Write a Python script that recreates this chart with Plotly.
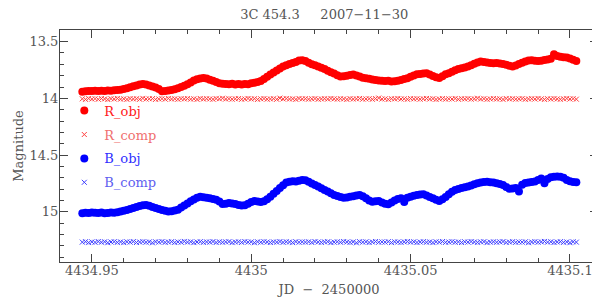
import plotly.graph_objects as go

# sample times (JD - 2450000), one frame every 0.001 d
jd = [round(4434.947 + 0.001 * i, 3) for i in range(156)]

r_obj = [13.942, 13.938, 13.936, 13.935, 13.932, 13.936, 13.933, 13.935, 13.931, 13.934,
         13.929, 13.927, 13.925, 13.918, 13.910, 13.902, 13.893, 13.886, 13.879, 13.874,
         13.879, 13.886, 13.896, 13.905, 13.918, 13.938, 13.935, 13.930, 13.927, 13.920,
         13.912, 13.900, 13.888, 13.876, 13.860, 13.842, 13.832, 13.824, 13.820, 13.826,
         13.836, 13.845, 13.856, 13.866, 13.871, 13.873, 13.876, 13.872, 13.877, 13.874,
         13.878, 13.873, 13.875, 13.868, 13.862, 13.855, 13.847, 13.830, 13.810, 13.790,
         13.772, 13.755, 13.738, 13.720, 13.708, 13.698, 13.688, 13.680, 13.667, 13.664,
         13.670, 13.686, 13.699, 13.708, 13.720, 13.730, 13.742, 13.756, 13.769, 13.782,
         13.796, 13.808, 13.805, 13.800, 13.795, 13.790, 13.798, 13.808, 13.818, 13.822,
         13.828, 13.834, 13.838, 13.842, 13.844, 13.848, 13.846, 13.851, 13.849, 13.845,
         13.838, 13.830, 13.822, 13.810, 13.798, 13.788, 13.785, 13.782, 13.779, 13.790,
         13.802, 13.814, 13.820, 13.805, 13.788, 13.778, 13.765, 13.752, 13.742, 13.735,
         13.728, 13.720, 13.708, 13.696, 13.685, 13.676, 13.680, 13.684, 13.688, 13.690,
         13.688, 13.692, 13.698, 13.705, 13.713, 13.720, 13.710, 13.698, 13.686, 13.676,
         13.666, 13.664, 13.669, 13.672, 13.668, 13.662, 13.658, 13.652, 13.612, 13.626,
         13.634, 13.637, 13.640, 13.648, 13.660, 13.670]

r_comp = [14.004, 14.009, 14.001, 14.006, 14.003, 14.008, 14.002, 14.005, 14.010, 14.003,
          14.006, 14.001, 14.007, 14.004, 14.009, 14.002, 14.005, 14.003, 14.008, 14.000,
          14.006, 14.004, 14.002, 14.009, 14.005, 14.003, 14.007, 14.001, 14.006, 14.004,
          14.008, 14.003, 14.005, 14.002, 14.007, 14.004, 14.009, 14.001, 14.006, 14.003,
          14.005, 14.008, 14.002, 14.004, 13.999, 14.006, 14.003, 14.007, 14.004, 14.002,
          14.008, 14.005, 14.001, 14.006, 14.003, 14.009, 14.004, 14.002, 14.007, 14.005,
          14.003, 14.008, 13.998, 14.005, 14.002, 14.006, 14.004, 14.009, 14.001, 14.005,
          14.003, 14.007, 14.004, 14.002, 14.008, 14.005, 14.003, 14.006, 14.001, 14.004,
          14.007, 14.003, 14.005, 14.009, 14.002, 14.006, 14.004, 14.001, 14.007, 14.005,
          14.003, 14.008, 14.002, 13.997, 14.006, 14.004, 14.009, 14.003, 14.005, 14.001,
          14.006, 14.004, 14.008, 14.002, 14.005, 14.003, 14.007, 14.004, 14.001, 14.006,
          14.003, 14.009, 14.005, 14.002, 14.007, 14.004, 14.006, 14.001, 14.008, 14.003,
          14.005, 14.002, 14.007, 14.004, 13.999, 14.006, 14.003, 14.008, 14.005, 14.002,
          14.006, 14.004, 14.009, 14.001, 14.005, 14.003, 14.007, 14.004, 14.002, 14.008,
          14.005, 14.003, 14.006, 14.001, 14.004, 14.009, 14.003, 14.006, 14.002, 14.005,
          14.008, 14.004, 14.001, 14.006, 14.003, 14.007]

b_obj = [15.012, 15.008, 15.010, 15.005, 15.007, 15.010, 15.006, 15.012, 15.009, 15.006,
         15.008, 15.004, 14.996, 14.990, 14.983, 14.975, 14.966, 14.956, 14.948, 14.942,
         14.940, 14.946, 14.956, 14.966, 14.974, 14.984, 14.990, 14.996, 14.993, 14.988,
         14.981, 14.962, 14.944, 14.925, 14.905, 14.890, 14.876, 14.866, 14.870, 14.876,
         14.880, 14.886, 14.893, 14.908, 14.930, 14.928, 14.922, 14.926, 14.930, 14.938,
         14.944, 14.942, 14.928, 14.912, 14.904, 14.908, 14.912, 14.905, 14.888, 14.866,
         14.840, 14.815, 14.790, 14.765, 14.740, 14.735, 14.730, 14.732, 14.726, 14.720,
         14.722, 14.735, 14.750, 14.762, 14.776, 14.792, 14.806, 14.820, 14.836, 14.850,
         14.860, 14.868, 14.875, 14.872, 14.866, 14.862, 14.856, 14.850, 14.862, 14.880,
         14.900, 14.910, 14.907, 14.904, 14.918, 14.928, 14.932, 14.916, 14.900, 14.886,
         14.880, 14.913, 14.876, 14.866, 14.858, 14.852, 14.846, 14.845, 14.856, 14.868,
         14.879, 14.892, 14.903, 14.888, 14.868, 14.845, 14.822, 14.806, 14.798, 14.790,
         14.782, 14.777, 14.768, 14.756, 14.748, 14.742, 14.737, 14.734, 14.738, 14.742,
         14.748, 14.754, 14.762, 14.780, 14.797, 14.794, 14.790, 14.820, 14.760, 14.746,
         14.740, 14.736, 14.733, 14.718, 14.705, 14.748, 14.710, 14.694, 14.690, 14.688,
         14.690, 14.700, 14.718, 14.730, 14.736, 14.739]

b_comp = [15.266, 15.262, 15.270, 15.264, 15.268, 15.261, 15.267, 15.263, 15.271, 15.265,
          15.262, 15.268, 15.264, 15.270, 15.263, 15.266, 15.261, 15.269, 15.265, 15.262,
          15.267, 15.264, 15.272, 15.263, 15.266, 15.261, 15.268, 15.265, 15.262, 15.269,
          15.264, 15.267, 15.260, 15.266, 15.263, 15.270, 15.265, 15.262, 15.268, 15.264,
          15.266, 15.261, 15.269, 15.263, 15.267, 15.264, 15.262, 15.270, 15.265, 15.263,
          15.268, 15.261, 15.266, 15.264, 15.271, 15.263, 15.267, 15.262, 15.265, 15.269,
          15.264, 15.266, 15.261, 15.268, 15.263, 15.265, 15.270, 15.262, 15.267, 15.264,
          15.266, 15.263, 15.269, 15.261, 15.265, 15.268, 15.264, 15.262, 15.270, 15.266,
          15.263, 15.267, 15.261, 15.265, 15.268, 15.264, 15.272, 15.262, 15.266, 15.263,
          15.269, 15.265, 15.261, 15.267, 15.264, 15.266, 15.262, 15.270, 15.263, 15.265,
          15.268, 15.264, 15.261, 15.266, 15.263, 15.269, 15.265, 15.262, 15.267, 15.264,
          15.270, 15.263, 15.266, 15.261, 15.268, 15.265, 15.262, 15.267, 15.264, 15.269,
          15.263, 15.266, 15.261, 15.265, 15.268, 15.264, 15.262, 15.270, 15.266, 15.263,
          15.267, 15.264, 15.261, 15.269, 15.265, 15.262, 15.268, 15.264, 15.266, 15.263,
          15.271, 15.265, 15.262, 15.267, 15.264, 15.260, 15.266, 15.263, 15.269, 15.265,
          15.262, 15.268, 15.264, 15.271, 15.263, 15.266]

title_txt = "3C 454.3\u00a0\u00a0\u00a0\u00a0\u00a02007\u221211\u221230"
xlab = "JD\u00a0\u00a0\u2212\u00a0\u00a02450000"
ylab = "Magnitude"

RED = "#ff0000"
BLUE = "#0000ff"
TXT = "#555555"
FONT = "DejaVu Serif"

fig = go.Figure()
fig.add_trace(go.Scatter(x=jd, y=r_obj, mode="markers", legendgroup="a",
                         name="<span style='color:#ff2020'>R_obj</span>",
                         marker=dict(color=RED, size=8, line=dict(width=0))))
fig.add_trace(go.Scatter(x=jd, y=r_comp, mode="markers", legendgroup="b",
                         name="<span style='color:#f07070'>R_comp</span>",
                         marker=dict(symbol="x-thin", size=5, line=dict(width=1, color="#ff4040"))))
fig.add_trace(go.Scatter(x=jd, y=b_obj, mode="markers", legendgroup="c",
                         name="<span style='color:#3030ff'>B_obj</span>",
                         marker=dict(color=BLUE, size=8, line=dict(width=0))))
fig.add_trace(go.Scatter(x=jd, y=b_comp, mode="markers", legendgroup="d",
                         name="<span style='color:#6060f0'>B_comp</span>",
                         marker=dict(symbol="x-thin", size=5, line=dict(width=1, color="#4040ff"))))

# the page body adds an 8px margin, so the figure is a bit smaller than the window
fig.update_layout(
    width=590, height=292,
    margin=dict(l=52, r=0, t=22, b=38),
    paper_bgcolor="white", plot_bgcolor="white",
    font=dict(family=FONT, size=13, color=TXT),
    title=dict(text=title_txt, x=0.536, xanchor="center", y=0.995, yanchor="top",
               font=dict(family=FONT, size=13, color=TXT)),
    showlegend=True,
    legend=dict(x=0.008, y=0.717, xanchor="left", yanchor="top",
                bgcolor="rgba(0,0,0,0)", tracegroupgap=4,
                font=dict(family=FONT, size=13)),
)
fig.update_xaxes(range=[4434.940, 4435.1088], tickvals=[4434.95, 4435, 4435.05, 4435.1],
                 ticktext=["4434.95", "4435", "4435.05", "4435.1"],
                 ticks="inside", ticklen=8, tickcolor="#444", mirror="ticks",
                 showline=True, linecolor="#444", linewidth=1, showgrid=False, zeroline=False,
                 minor=dict(dtick=0.01, tick0=4434.95, ticks="inside", ticklen=4, tickcolor="#444"),
                 ticklabelstandoff=-4,
                 title=dict(text=xlab, standoff=8, font=dict(size=13)),
                 tickfont=dict(size=13))
fig.update_yaxes(range=[15.441, 13.398], tickvals=[13.5, 14, 14.5, 15],
                 ticktext=["13.5", "14", "14.5", "15"],
                 ticks="inside", ticklen=8, tickcolor="#444", mirror="ticks",
                 showline=True, linecolor="#444", linewidth=1, showgrid=False, zeroline=False,
                 minor=dict(dtick=0.1, tick0=13.5, ticks="inside", ticklen=4, tickcolor="#444"),
                 ticklabelstandoff=-2,
                 title=dict(text=ylab, standoff=2, font=dict(size=13)),
                 tickfont=dict(size=13))

fig.write_html("out.html")
